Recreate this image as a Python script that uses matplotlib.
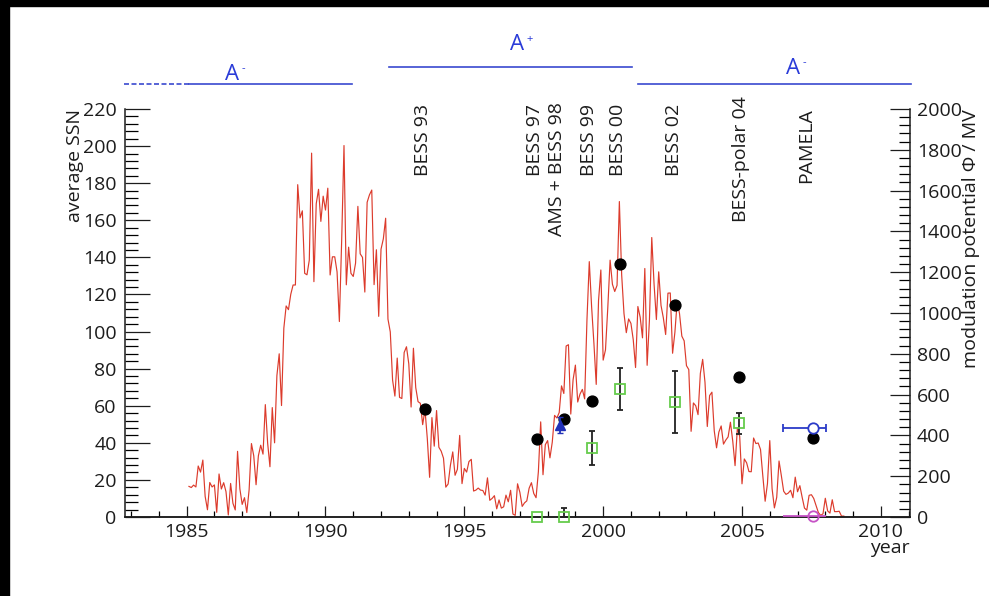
import matplotlib
matplotlib.use("Agg")
import matplotlib.pyplot as plt
from matplotlib.ticker import MultipleLocator
from matplotlib.transforms import blended_transform_factory, offset_copy
from matplotlib.patches import Rectangle

plt.rcParams['font.family'] = ['Open Sans', 'DejaVu Sans']

# Monthly mean sunspot number, starting January 1985
ssn_start_year = 1985
ssn_monthly = [
    16.5, 15.9, 17.2, 16.2, 27.5, 24.2, 30.7, 11.1, 3.9, 18.6, 16.2, 17.3,       # 1985
    2.5, 23.2, 15.1, 18.5, 13.7, 1.1, 18.1, 7.4, 3.8, 35.4, 15.2, 6.8,           # 1986
    10.4, 2.4, 14.7, 39.6, 33.0, 17.4, 33.0, 38.7, 33.9, 60.6, 39.9, 27.1,       # 1987
    59.0, 40.0, 76.2, 88.0, 60.1, 101.8, 113.8, 111.8, 120.1, 125.1, 125.1, 179.2,  # 1988
    161.3, 165.1, 131.4, 130.6, 138.5, 196.2, 126.9, 168.9, 176.7, 159.4, 173.0, 165.5,  # 1989
    177.3, 130.5, 140.3, 140.3, 132.2, 105.4, 149.4, 200.3, 125.2, 145.5, 131.4, 129.7,  # 1990
    136.9, 167.5, 141.9, 140.0, 121.3, 169.7, 173.7, 176.3, 125.3, 144.1, 108.2, 144.4,  # 1991
    150.0, 161.1, 106.7, 99.8, 73.8, 65.2, 85.7, 64.5, 63.9, 88.7, 91.8, 82.6,   # 1992
    59.3, 91.0, 69.8, 62.2, 61.3, 49.8, 57.9, 42.3, 21.4, 53.6, 38.2, 57.4,      # 1993
    37.6, 35.5, 31.7, 16.1, 17.8, 28.0, 35.1, 22.5, 25.7, 44.0, 18.0, 26.2,      # 1994
    24.2, 29.9, 31.1, 14.0, 14.5, 15.6, 14.5, 14.3, 11.8, 21.1, 9.0, 10.0,       # 1995
    11.5, 4.4, 9.2, 4.8, 5.5, 11.8, 8.2, 14.4, 1.6, 0.9, 17.9, 13.3,             # 1996
    5.7, 7.6, 8.7, 15.5, 18.5, 12.7, 10.4, 24.4, 51.3, 22.8, 39.0, 41.2,         # 1997
    31.9, 40.3, 54.8, 53.4, 56.3, 70.7, 66.6, 92.2, 92.9, 55.5, 74.0, 81.9,      # 1998
    62.0, 66.3, 68.8, 63.7, 106.4, 137.7, 113.5, 93.7, 71.5, 116.7, 133.2, 84.6,  # 1999
    90.1, 112.9, 138.5, 125.5, 121.6, 124.9, 170.1, 130.5, 109.7, 99.4, 106.8, 104.4,  # 2000
    95.6, 80.6, 113.5, 107.7, 96.6, 134.0, 81.8, 106.4, 150.7, 125.5, 106.5, 132.2,  # 2001
    114.1, 107.4, 98.4, 120.7, 120.8, 88.3, 99.6, 116.4, 109.6, 97.5, 95.0, 81.6,  # 2002
    79.5, 46.2, 61.5, 60.0, 55.2, 77.4, 85.0, 72.7, 48.8, 65.5, 67.3, 46.5,      # 2003
    37.3, 45.8, 49.1, 39.3, 41.5, 43.2, 51.1, 40.9, 27.7, 48.0, 43.5, 17.9,      # 2004
    31.3, 29.2, 24.5, 24.4, 42.6, 39.6, 39.9, 36.4, 22.1, 8.5, 18.0, 41.2,       # 2005
    15.3, 4.9, 10.6, 30.2, 22.3, 13.9, 12.2, 12.9, 14.4, 10.4, 21.5, 13.6,       # 2006
    16.9, 10.6, 4.8, 3.7, 11.7, 12.0, 10.0, 6.2, 2.4, 0.9, 1.7, 10.1,            # 2007
    3.3, 2.1, 9.3, 2.9, 2.9, 3.1, 0.5, 0.5,                                      # 2008
]
ssn_time = [ssn_start_year + (i + 1) / 12.0 for i in range(len(ssn_monthly))]

# Modulation potential from the balloon / satellite flights (MV)
phi_year = [1993.6, 1997.6, 1998.6, 1999.6, 2000.6, 2002.6, 2004.88, 2007.55]
phi_value = [530, 380, 480, 567, 1238, 1037, 685, 386]

# Second determination of the modulation potential, with uncertainties (MV)
phi2_year = [1997.6, 1998.6, 1999.6, 2000.6, 2002.6, 2004.88]
phi2_value = [0, 0, 340, 627, 565, 460]
phi2_err_low = [0, 0, 86, 101, 151, 51]
phi2_err_high = [0, 45, 81, 104, 149, 52]

# AMS point
ams_year = [1998.45]
ams_value = [450]
ams_err = [38]

# PAMELA points with time range of the data taking
pamela_year = [2007.55]
pamela_value = [434]
pamela_low_value = [3]
pamela_xerr_left = [1.06]
pamela_xerr_right = [0.48]

# Experiment labels
exp_names = ["BESS 93", "BESS 97", "AMS + BESS 98", "BESS 99", "BESS 00",
             "BESS 02", "BESS-polar 04", "PAMELA"]
exp_year = [1993.5, 1997.55, 1998.35, 1999.5, 2000.52, 2002.55, 2004.95, 2007.3]
exp_label_base = [0.836, 0.836, 0.689, 0.836, 0.836, 0.836, 0.723, 0.819]

# Solar magnetic polarity epochs
polarity_sign = ["-", "+", "-"]
polarity_start = [1985.07, 1992.28, 2001.26]
polarity_end = [1990.97, 2001.04, 2011.1]
polarity_label_year = [1986.65, 1996.9, 2006.85]

fig = plt.figure(figsize=(9.89, 5.96), dpi=100, facecolor='white')
ax = fig.add_axes([125 / 989, 1 - 517 / 596, (910 - 125) / 989, (517 - 109) / 596])
ax2 = ax.twinx()

text_color = '#1c1c1c'
ax.plot(ssn_time, ssn_monthly, color='#dc3b2c', lw=0.85, zorder=2)

ax.set_xlim(1982.78, 2011.05)
ax.set_ylim(0, 220)
ax2.set_ylim(0, 2000)

for a in (ax, ax2):
    a.spines['top'].set_visible(False)
    a.patch.set_visible(False)
ax.spines['right'].set_visible(False)
ax2.spines['left'].set_visible(False)
for a in (ax, ax2):
    for s in a.spines.values():
        s.set_linewidth(1.1)
        s.set_color(text_color)

ax.xaxis.set_major_locator(MultipleLocator(5))
ax.xaxis.set_minor_locator(MultipleLocator(1))
ax.yaxis.set_major_locator(MultipleLocator(20))
ax.yaxis.set_minor_locator(MultipleLocator(4))
ax2.yaxis.set_major_locator(MultipleLocator(200))
ax2.yaxis.set_minor_locator(MultipleLocator(40))

ax.tick_params(axis='x', which='major', direction='in', length=8, width=0.9,
               pad=4, labelsize=14, colors=text_color, top=False)
ax.tick_params(axis='x', which='minor', direction='in', length=4.3, width=0.9, top=False)
ax.tick_params(axis='y', which='major', direction='in', length=18, width=0.9,
               pad=6, labelsize=14, colors=text_color, right=False)
ax.tick_params(axis='y', which='minor', direction='in', length=9.4, width=0.9, right=False)
ax2.tick_params(axis='y', which='major', direction='in', length=14.4, width=0.9,
                pad=5, labelsize=14, colors=text_color, left=False)
ax2.tick_params(axis='y', which='minor', direction='in', length=7.9, width=0.9, left=False)

ax.set_ylabel('average SSN', fontsize=14, color=text_color, loc='top', labelpad=-1)
ax2.set_ylabel('modulation potential \u03a6 / MV', fontsize=14, color=text_color,
               loc='top', labelpad=0)
ax.text(1.0, -0.055, 'year', transform=ax.transAxes, ha='right', va='top',
        fontsize=14, color=text_color)

# Measurements on the modulation-potential scale
ax2.errorbar(phi2_year, phi2_value, yerr=[phi2_err_low, phi2_err_high], fmt='none',
             ecolor='#222222', elinewidth=1.3, capsize=2.5, capthick=1.3, zorder=3,
             clip_on=False)
ax2.plot(phi2_year, phi2_value, ls='none', marker='s', markersize=7.5,
         markerfacecolor='none', markeredgecolor='#66cc4c', markeredgewidth=1.3,
         zorder=4, clip_on=False)
ax2.plot(phi_year, phi_value, ls='none', marker='o', markersize=7.8,
         color='black', zorder=5)
ax2.errorbar(ams_year, ams_value, yerr=ams_err, fmt='^', color='#2231b8',
             markersize=7.5, elinewidth=1.3, capsize=2, zorder=5)
ax2.errorbar(pamela_year, pamela_value,
             xerr=[pamela_xerr_left, pamela_xerr_right], fmt='o',
             color='#2b3bc8', markerfacecolor='white', markersize=7.5,
             markeredgewidth=1.3, elinewidth=1.3, capsize=3, zorder=5)
ax2.errorbar(pamela_year, pamela_low_value,
             xerr=[pamela_xerr_left, pamela_xerr_right], fmt='o',
             color='#c653c6', markerfacecolor='none', markersize=7.5,
             markeredgewidth=1.3, elinewidth=1.3, capsize=0, zorder=5, clip_on=False)

# Experiment names
xa = ax.get_xaxis_transform()
for name, yr, base in zip(exp_names, exp_year, exp_label_base):
    ax.text(yr, base, name, transform=xa, rotation=90, ha='center', va='bottom',
            fontsize=14, color=text_color)

# Polarity epochs above the plot
bt = blended_transform_factory(ax.transData, fig.transFigure)
pol_color = '#3a49cf'
pol_text_color = '#2a3bd8'
pol_line_y = [1 - 84 / 596, 1 - 67 / 596, 1 - 84 / 596]
pol_text_y = [1 - 74 / 596, 1 - 45 / 596, 1 - 68 / 596]
pol_font = ['Liberation Sans Narrow', 'Open Sans']
for sign, x0, x1, xl, yl, yt in zip(polarity_sign, polarity_start, polarity_end,
                                    polarity_label_year, pol_line_y, pol_text_y):
    ax.plot([x0, x1], [yl, yl], transform=bt, color=pol_color, lw=1.2, clip_on=False)
    ax.text(xl, yt, 'A', transform=bt, ha='center', va='center', fontsize=16,
            color=pol_text_color, family=pol_font)
    ax.text(xl, yt, sign, transform=offset_copy(bt, fig=fig, x=6.5, y=4, units='points'),
            ha='left', va='center', fontsize=8, color=pol_text_color, family=pol_font)
# earlier part of the first A- epoch, dashed
ax.plot([1982.73, polarity_start[0]], [pol_line_y[0], pol_line_y[0]], transform=bt,
        color=pol_color, lw=1.2, ls=(0, (3, 1.5)), clip_on=False)

# frame bands
fig.patches.append(Rectangle((0, 1 - 6 / 596), 1, 6 / 596, transform=fig.transFigure,
                             color='black', zorder=10))
fig.patches.append(Rectangle((0, 0), 9 / 989, 1, transform=fig.transFigure,
                             color='black', zorder=10))

fig.savefig('out.png', dpi=100, facecolor='white')
